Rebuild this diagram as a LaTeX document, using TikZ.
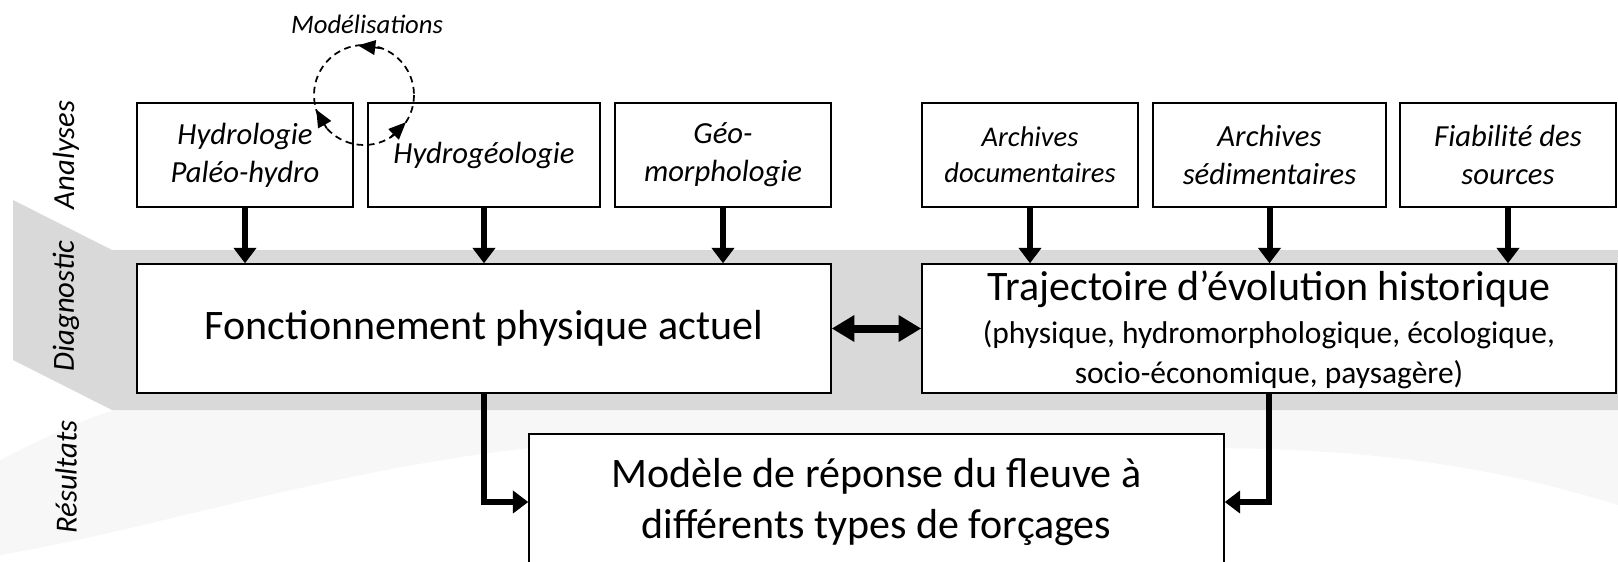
\documentclass[tikz,border=0pt]{standalone}
\usepackage{fontspec}
\setmainfont{Carlito}
\usetikzlibrary{arrows.meta}
\definecolor{bandgray}{HTML}{D9D9D9}
\definecolor{swooshgray}{HTML}{F7F7F7}
\tikzset{
  box/.style={draw=black, line width=1.1pt, fill=white, inner sep=0pt, align=center, anchor=center},
  itbox/.style={box, minimum height=78pt, font=\fontsize{23}{28.5}\selectfont\itshape},
  bigbox/.style={box, font=\fontsize{31.5}{38.7}\selectfont},
  flow/.style={line width=4.5pt, -{Triangle[length=11.5pt,width=16.5pt]}},
  dflow/.style={line width=6pt, {Triangle[length=17pt,width=19pt]}-{Triangle[length=17pt,width=19pt]}},
  rowlabel/.style={rotate=90, font=\fontsize{23}{28}\selectfont\itshape},
  loopline/.style={line width=1.3pt, dash pattern=on 5pt off 3.5pt},
  looptip/.style={line width=1.3pt, -{Triangle[length=13pt,width=11pt]}},
}
\begin{document}
\begin{tikzpicture}[x=0.75pt,y=-0.75pt]
\useasboundingbox (0,0) rectangle (1618,561);
\clip (0,0) rectangle (1618,561);
% faint swoosh
\fill[swooshgray] (0,460) .. controls (40,440) and (80,420) .. (115,410) -- (1618,410) -- (1618,505)
  .. controls (1480,462) and (1350,448) .. (1200,448) -- (530,448)
  .. controls (330,470) and (150,530) .. (0,555) -- cycle;
% diagnostic band
\fill[bandgray] (13,200) -- (112,250) -- (1618,250) -- (1618,410) -- (112,410) -- (13,360) -- cycle;
% row labels
\node[rowlabel] (lAn) at (66,155) {Analyses};
\node[rowlabel] (lDi) at (66,306) {Diagnostic};
\node[rowlabel] (lRe) at (66,477) {Résultats};
% analyses boxes
\node[itbox, minimum width=162pt] (hydro) at (245,155) {Hydrologie\\Paléo-hydro};
\node[itbox, minimum width=174pt] (hgeo) at (484,155) {Hydrogéologie};
\node[itbox, minimum width=162pt] (geom) at (723,155) {Géo-\\morphologie};
\node[itbox, minimum width=162pt, font=\fontsize{21.4}{27}\selectfont\itshape] (adoc) at (1030,155) {Archives\\documentaires};
\node[itbox, minimum width=174.75pt] (ased) at (1269.5,155) {Archives\\sédimentaires};
\node[itbox, minimum width=162pt] (fiab) at (1508,155) {Fiabilité des\\sources};
% diagnostic boxes
\node[bigbox, minimum width=520.5pt, minimum height=96.75pt] (fonc) at (484,328.5) {Fonctionnement physique actuel};
\node[box, minimum width=520.5pt, minimum height=96.75pt] (traj) at (1269,328.5) {};
\node[align=center, inner sep=0pt, font=\fontsize{23.6}{30.3}\selectfont] (trajt) at (1269,330)
  {{\fontsize{31.5}{38}\selectfont Trajectoire d’évolution historique}\\[1.5pt](physique, hydromorphologique, écologique,\\socio-économique, paysagère)};
% result box
\node[bigbox, minimum width=521.25pt, minimum height=102pt] (mod) at (876.5,502) {Modèle de réponse du fleuve à\\différents types de forçages};
% arrows
\draw[flow] (hydro.south) -- (hydro.south |- fonc.north);
\draw[flow] (hgeo.south) -- (hgeo.south |- fonc.north);
\draw[flow] (geom.south) -- (geom.south |- fonc.north);
\draw[flow] (adoc.south) -- (adoc.south |- traj.north);
\draw[flow] (ased.south) -- (ased.south |- traj.north);
\draw[flow] (fiab.south) -- (fiab.south |- traj.north);
\draw[dflow] (fonc.east) -- (traj.west);
\draw[flow] (fonc.south) |- (mod.west);
\draw[flow] (traj.south) |- (mod.east);
% modelling loop
\node[font=\fontsize{20}{24}\selectfont\itshape] (modl) at (367,24) {Modélisations};
\coordinate (lc) at (364,95);
\draw[loopline] (lc) circle[radius=50];
\coordinate (t1a) at (382,48.4);
\coordinate (t1b) at (358,45.4);
\coordinate (t2a) at (326.8,128.5);
\coordinate (t2b) at (316.2,109.6);
\coordinate (t3a) at (390.5,137.4);
\coordinate (t3b) at (405.9,122.2);
\draw[looptip] (t1a) -- (t1b);
\draw[looptip] (t2a) -- (t2b);
\draw[looptip] (t3a) -- (t3b);
\end{tikzpicture}
\end{document}
